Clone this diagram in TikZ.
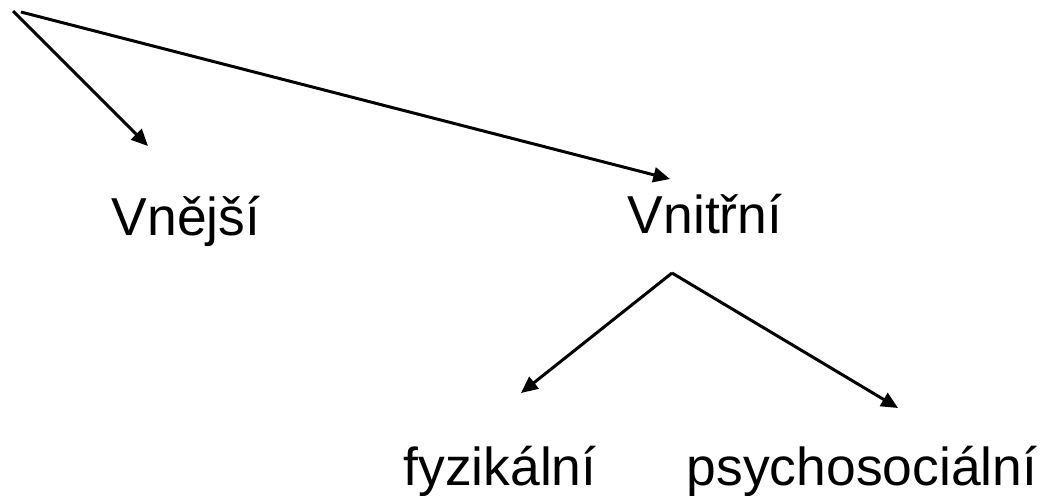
\documentclass[tikz,border=0pt]{standalone}
\usepackage{fontspec}
\setmainfont{Liberation Sans}
\usetikzlibrary{arrows.meta}
\begin{document}
\begin{tikzpicture}[x=0.02cm,y=-0.02cm,
  lbl/.style={font=\fontsize{30.4}{35}\selectfont, inner sep=0pt, anchor=base},
  arr/.style={-{Triangle[length=9.5pt,width=8.5pt]}, line width=1.7pt}]
\useasboundingbox (0,0) rectangle (1042,495);
% labels
\node [lbl] (vnejsi) at (186,235) {Vnější};
\node [lbl] (vnitrni) at (705,233) {Vnitřní};
\node [lbl] (fyz) at (500,485) {fyzikální};
\node [lbl] (psych) at (862,485) {psychosociální};
% arrow ends
\coordinate (s1) at (13,11); \coordinate (s2) at (21,12);
\coordinate (s3) at (672,273);
\coordinate (e1) at (148,146); \coordinate (e2) at (670,179);
\coordinate (e3) at (521,393); \coordinate (e4) at (898,408);
\draw [arr] (s1) -- (e1);
\draw [arr] (s2) -- (e2);
\draw [arr] (s3) -- (e3);
\draw [arr] (s3) -- (e4);
\end{tikzpicture}
\end{document}
